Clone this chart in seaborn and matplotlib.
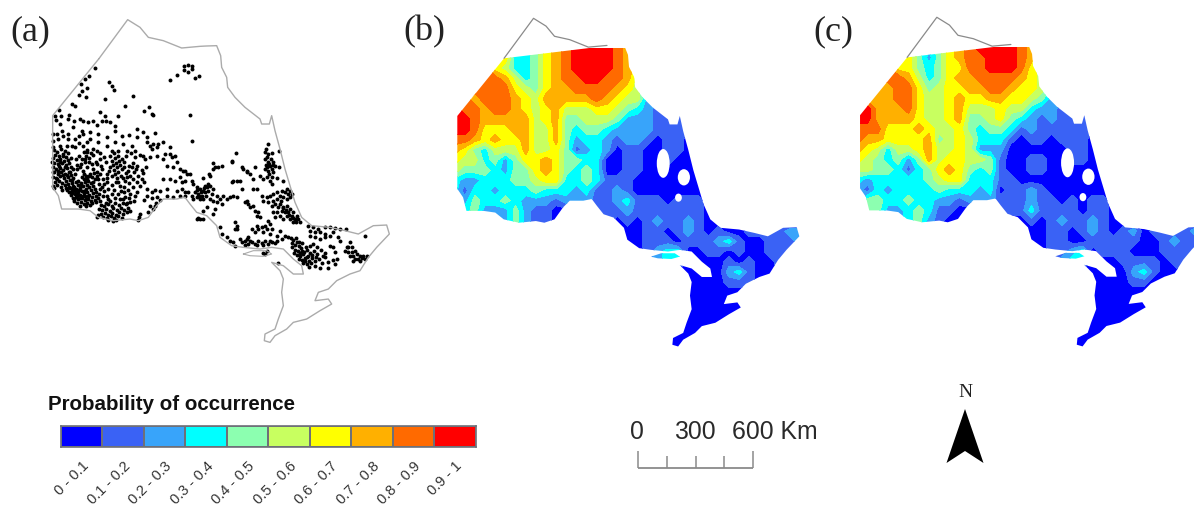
import numpy as np
import matplotlib.pyplot as plt
from matplotlib.patches import Ellipse, PathPatch, Polygon
from matplotlib.path import Path
import seaborn as sns

sns.set_theme(style="white")

FIG_W, FIG_H = 1194, 506

# province outline, map units. first stretch (up to NORTH_END) has no model surface
outline_x = [296, 383, 420, 445, 490, 545, 600, 619, 650, 662, 665, 680, 683, 705, 735, 780, 785, 808, 815, 825, 840, 855, 870, 885, 905, 935, 990, 1035, 1075, 1120, 1160, 1168, 1130, 1105, 1080, 1050, 1010, 985, 955, 945, 985, 995, 960, 920, 880, 860, 825, 810, 793, 795, 825, 835, 850, 845, 850, 840, 815, 850, 880, 910, 905, 880, 850, 815, 780, 730, 695, 660, 650, 620, 590, 570, 555, 530, 490, 470, 445, 415, 390, 340, 295, 270, 235, 185, 175, 158, 158, 296]
outline_y = [180, 62, 85, 115, 125, 147, 142, 141, 140, 170, 205, 235, 265, 295, 325, 360, 375, 375, 350, 395, 450, 510, 560, 610, 655, 680, 685, 695, 705, 680, 678, 705, 745, 775, 815, 825, 845, 870, 880, 905, 900, 915, 935, 960, 970, 990, 1010, 1030, 1025, 1005, 990, 960, 920, 880, 840, 815, 790, 800, 825, 825, 800, 780, 750, 745, 750, 745, 740, 715, 680, 650, 640, 615, 595, 600, 600, 620, 655, 665, 660, 665, 655, 635, 630, 630, 590, 565, 350, 180]
NORTH_END = 7

island_x = [730, 760, 800, 815, 790, 750]
island_y = [765, 755, 755, 765, 772, 770]

# no data lakes
lake_x = [766, 827, 811]
lake_y = [490, 531, 591]
lake_w = [38, 36, 20]
lake_h = [85, 48, 24]

# occurrence records, map units
sites_north = [(285,208),(268,232),(255,240),(243,255),(262,268),(245,275),(238,288),(258,295),(327,250),(335,262),(342,272),(316,300),(398,292),(376,322),(432,335),(447,324),(455,345),(460,349),(215,315),(225,320),(176,332),(208,348),(165,350),(183,350),(168,362),(205,360),(222,365),(240,360),(250,365),(265,368),(280,365),(300,340),(315,350),(318,365),(305,365),(290,378),(330,368),(345,380),(355,350),(180,375),(220,385),(245,395),(270,400),(510,242),(530,227),(553,200),(565,197),(575,200),(553,212),(565,218),(575,210),(585,237),(598,232),(571,349),(577,426)]
sites_band = [(160,405),(185,395),(175,420),(160,425),(205,420),(225,420),(250,405),(270,420),(295,405),(320,415),(345,395),(365,410),(388,408),(410,390),(430,400),(410,415),(440,415),(465,403),(395,440),(370,435),(345,430),(320,440),(295,430),(280,450),(250,440),(225,445),(200,440),(180,440),(160,445),(440,430),(450,440),(460,435),(470,445),(455,450),(475,435),(490,430),(510,445),(495,465),(510,465),(525,470),(470,470),(450,475),(430,470),(405,455),(380,455),(355,455),(335,455)]
sites_far_west = [(162,452),(171,458),(183,449),(194,456),(205,463),(166,467),(177,471),(188,465),(199,474),(160,478),(170,483),(181,480),(192,486),(203,482),(212,477),(163,492),(174,496),(186,493),(197,499),(208,491),(158,505),(168,509),(179,506),(190,512),(201,508),(212,503),(163,520),(173,524),(184,518),(195,525),(206,520),(160,533),(169,537),(181,531),(192,538),(203,534),(214,529),(165,548),(176,545),(187,551),(198,546),(209,542),(220,538),(160,560),(172,557),(183,563),(194,559),(205,554),(216,551),(163,568),(186,572),(197,567),(208,564),(219,560),(228,548),(225,525),(218,510),(232,497),(175,515),(155,490),(158,520),(188,528),(178,500),(196,505),(170,540),(200,528),(215,544),(180,490),(210,518),(190,470)]
sites_dryden = [(202,572),(211,568),(222,563),(233,557),(244,552),(255,548),(206,580),(217,576),(228,571),(239,566),(250,561),(261,557),(272,552),(213,589),(224,585),(235,580),(246,575),(257,570),(268,565),(279,560),(218,597),(229,593),(240,588),(251,583),(262,578),(273,574),(284,569),(223,606),(234,601),(245,597),(256,592),(267,587),(278,582),(289,578),(232,612),(243,608),(254,604),(265,599),(276,595),(287,590),(298,585),(240,620),(251,616),(262,611),(273,607),(284,602),(295,597),(258,622),(270,618),(230,585),(222,600),(215,582),(237,574),(248,592),(259,600),(226,577),(242,558),(253,540),(264,546),(275,535),(235,545),(245,535),(258,530),(270,525),(285,540),(296,555),(290,530),(305,565),(312,575),(300,605),(310,590),(318,612),(325,600),(240,598),(252,575),(264,590),(232,592),(275,612),(288,610),(220,570)]
sites_shore = [(302,618),(313,622),(324,615),(335,620),(346,612),(357,618),(368,611),(379,616),(390,610),(296,630),(307,634),(318,629),(329,635),(340,628),(351,633),(362,627),(373,632),(384,626),(303,645),(314,641),(325,647),(336,642),(347,648),(358,640),(369,645),(380,640),(391,636),(292,654),(310,654),(321,658),(332,652),(343,657),(354,652),(365,656),(325,664),(338,665),(348,662),(295,648),(330,605),(345,598),(360,600),(375,595),(388,598),(320,592),(335,585),(355,585),(372,580),(390,585),(405,590),(418,655),(415,662),(420,645)]
sites_inland = [(252,458),(262,452),(272,463),(258,470),(268,477),(280,468),(290,455),(300,462),(312,475),(245,480),(255,490),(238,470),(228,480),(242,495),(232,510),(250,515),(262,505),(275,495),(288,488),(300,480),(318,490),(330,470),(342,462),(355,472),(366,480),(378,470),(392,462),(405,475),(420,468),(436,480),(335,485),(348,492),(360,498),(372,490),(386,502),(398,492),(412,500),(425,512),(438,505),(330,505),(342,512),(354,518),(366,510),(378,522),(390,530),(402,520),(415,530),(428,522),(322,525),(336,530),(350,538),(362,530),(375,545),(388,552),(400,540),(412,548),(425,540),(305,510),(292,520),(280,510),(268,530),(310,540),(322,550),(335,558),(348,550),(360,562),(373,565),(385,572),(398,565),(410,578),(420,560),(432,550),(440,570),(455,580),(465,572),(470,595),(480,603),(290,495),(302,500),(278,548),(262,540),(295,540),(440,590),(455,598),(468,612),(450,620),(432,602),(382,612),(370,600),(402,605),(345,478),(352,505),(358,485),(372,505),(384,515),(340,498),(326,515),(345,525),(368,538),(355,548),(380,535),(395,505),(408,510),(322,538),(300,525),(312,555),(300,570),(325,570),(342,572),(362,575),(262,460),(256,480),(268,488),(240,505),(252,525),(283,522),(215,440),(238,432),(262,430),(205,405),(172,405),(190,410),(238,410)]
sites_mid = [(515,475),(530,490),(490,480),(500,500),(520,505),(540,510),(555,515),(570,525),(490,540),(510,540),(525,545),(540,535),(545,550),(555,545),(480,575),(500,570),(530,575),(545,570),(555,580),(500,590),(520,595),(540,590),(465,620),(460,630),(445,640),(548,515),(562,525),(575,545),(610,538),(628,525),(630,532),(640,510),(645,505),(655,505),(665,502),(640,493),(697,485),(707,463),(695,490),(580,555),(590,565),(600,570),(610,575),(620,565),(630,560),(640,570),(585,580),(595,585),(605,590),(615,580),(625,575),(635,585),(580,600),(590,595),(600,600),(610,600),(625,555),(615,560),(650,590),(660,600),(650,610),(665,615),(680,600),(690,595),(670,590),(640,605),(630,600),(620,625),(610,635),(640,645),(645,630),(590,660),(600,660),(595,658),(610,660),(575,590),(565,580),(555,590),(700,590),(710,595),(700,545),(710,545),(720,545),(695,548),(725,505),(730,510),(742,515),(750,525),(740,520),(765,505),(760,540),(760,570),(770,570),(740,605),(745,615),(735,610),(750,625),(760,620),(765,635),(770,650),(775,640),(780,655),(725,570),(592,572),(603,580),(612,568),(598,592),(618,590)]
sites_timmins = [(805,435),(797,450),(795,460),(805,465),(800,475),(815,462),(838,457),(795,480),(803,490),(812,480),(820,490),(810,500),(800,505),(815,510),(825,500),(795,510),(805,515),(820,520),(838,505),(780,530),(790,540),(800,535),(810,545),(815,535),(830,538),(850,545),(815,555),(808,495),(798,498),(818,498),(806,525)]
sites_east = [(860,570),(870,575),(855,580),(865,585),(875,585),(845,575),(830,580),(820,585),(840,590),(850,595),(870,595),(810,590),(800,595),(785,590),(790,605),(805,610),(820,605),(830,600),(815,620),(825,615),(840,615),(835,625),(850,625),(860,620),(870,630),(855,640),(865,640),(880,640),(845,635),(875,650),(890,650),(885,660),(895,660),(900,670),(870,660),(860,650),(880,670),(850,660),(840,650),(830,640),(820,640),(825,655),(705,670),(710,680),(705,690),(712,690),(805,665),(810,675),(795,680),(800,690),(785,685),(815,690),(775,690),(770,680),(755,690),(765,700),(790,700),(810,705),(830,710),(840,695),(855,710),(865,715),(845,720),(872,718),(660,685),(665,705),(680,715),(690,725),(700,730),(705,740),(720,720),(745,715),(725,730),(735,725),(745,735),(755,728),(765,735),(775,727),(785,733),(795,727),(805,735),(815,728),(825,733),(735,738),(750,725),(770,738),(790,738),(810,725),(830,725),(790,762),(795,765),(800,755),(740,720),(835,793),(848,628),(858,632),(868,648),(878,658),(888,670),(842,605),(862,600)]
sites_south = [(878,722),(889,718),(898,728),(876,733),(886,738),(896,741),(907,733),(917,745),(875,745),(884,752),(893,757),(903,748),(912,760),(922,752),(931,742),(940,735),(950,745),(882,762),(890,768),(900,772),(910,766),(920,773),(930,762),(941,756),(952,765),(963,752),(896,780),(906,783),(916,778),(926,786),(936,778),(947,774),(958,780),(968,770),(976,762),(910,792),(922,796),(933,791),(944,786),(928,804),(945,800),(960,808),(985,808),(985,790),(1005,795),(1000,782),(965,792),(975,775),(890,730),(905,755),(925,770),(915,785),(935,768),(900,762)]
sites_southeast = [(925,680),(940,685),(955,690),(975,685),(990,685),(1005,687),(1020,690),(1038,690),(930,695),(945,700),(960,700),(975,705),(990,710),(930,710),(945,715),(960,720),(975,715),(1000,700),(1015,715),(1020,725),(1000,745),(1005,760),(1012,780),(990,740),(1040,745),(1095,710),(1050,730),(1045,745),(1055,745),(1035,755),(1045,760),(1055,760),(1065,755),(1050,770),(1060,770),(1070,765),(1080,770),(1090,770),(1100,770),(1065,780),(1075,780),(1085,778),(1095,780),(1080,785),(1060,785)]

# probability class (first digit of the range) read on a regular map grid,
# one string per row, rows short of the grid width continue as class 0
grid_x = np.arange(150, 1201, 30)
grid_y = np.arange(150, 1051, 30)

class_rows_b = [
    "77777" + "5334" + "678" + "9999" + "876" + "3" + "22221111",
    "77777" + "6334" + "678" + "9999" + "876" + "3" + "22221111",
    "8888" + "65334678" + "9999" + "8763" + "222211",
    "88888" + "753" + "46788" + "998875" + "3" + "222211",
    "888888" + "654677" + "8888" + "7653" + "2" + "2211",
    "887888" + "7657" + "7777" + "8765522111",
    "988788" + "76567" + "555" + "665432111",
    "998777" + "77567" + "445" + "554222111",
    "998666" + "77557" + "434" + "4322221111",
    "887676" + "67557" + "423" + "3212210110",
    "764355" + "57556" + "412" + "3201100110",
    "655342" + "46676" + "443" + "3001100100",
    "544432" + "44676" + "434" + "300110000",
    "322333" + "44566" + "334" + "3111000",
    "313323" + "33433" + "323" + "112100000",
    "324334" + "32221" + "222" + "11231110111",
    "334222" + "42110" + "000" + "111211111110",
    "223322" + "42110" + "000" + "0101012112100",
    "223322" + "42110" + "000" + "00000" + "110121" + "010011" + "11222",
    "0" * 19 + "1110111" + "231" + "00" + "111" + "22",
    "0" * 19 + "1233" + "00" + "11" + "01" + "00" + "1111" + "1",
    "0" * 19 + "1233" + "00" + "00" + "1" + "0" + "1" + "00" + "11" + "1",
    "0" * 27 + "231001",
    "0" * 27 + "111",
    "", "", "", "", "", "", "",
]
class_rows_c = [
    "77777" + "54346" + "78" + "9999" + "8763" + "22221111",
    "77777" + "64246" + "788" + "999" + "8763" + "22221111",
    "8888" + "66434" + "6688" + "999" + "8653" + "222211",
    "88888" + "75346" + "77" + "8888" + "7653" + "222211",
    "887788" + "64566" + "77887" + "6653" + "22211",
    "877788" + "65567" + "66776" + "6542" + "2111",
    "897778" + "65567" + "555" + "655322111",
    "997777" + "65567" + "445" + "643212111",
    "888666" + "76556" + "434" + "4312111111",
    "877666" + "67456" + "533" + "3101101110",
    "765355" + "67556" + "522" + "2000000110",
    "654342" + "47566" + "554" + "1001100110",
    "554431" + "34676" + "434" + "100110000",
    "323333" + "34566" + "333" + "1100000",
    "213233" + "33433" + "323" + "011210000",
    "244334" + "33221" + "222" + "11121101011",
    "344223" + "43110" + "000" + "111311110110",
    "332223" + "42100" + "000" + "0001012112100",
    "332223" + "42100" + "000" + "00000" + "110121" + "0120" + "1111" + "22",
    "0" * 19 + "1100" + "11111" + "00" + "1211",
    "0" * 19 + "1123" + "0" + "111" + "000" + "1111",
    "0" * 19 + "1233" + "000" + "1111" + "0" + "11" + "1",
    "0" * 27 + "231001",
    "0" * 27 + "11",
    "", "", "", "", "", "", "",
]

class_labels = ["0 - 0.1", "0.1 - 0.2", "0.2 - 0.3", "0.3 - 0.4", "0.4 - 0.5",
                "0.5 - 0.6", "0.6 - 0.7", "0.7 - 0.8", "0.8 - 0.9", "0.9 - 1"]
class_values = [0.05, 0.15, 0.25, 0.35, 0.45, 0.55, 0.65, 0.75, 0.85, 0.95]
class_colors = ["#0000ff", "#3a62f5", "#38a4fa", "#00ffff", "#8cffb0",
                "#c8ff60", "#ffff00", "#ffb000", "#ff6a00", "#ff0000"]
level_edges = [0, .1, .2, .3, .4, .5, .6, .7, .8, .9, 1]

scale_ticks_km = [0, 150, 300, 450, 600]


def px_axes(fig, left, top, width, height):
    # axes placed by picture pixels, top left origin
    return fig.add_axes([left / FIG_W, 1 - (top + height) / FIG_H, width / FIG_W, height / FIG_H])


def map_axes(fig, left, top, width, height):
    ax = px_axes(fig, left, top, width, height)
    ax.set_xlim(0, 1200)
    ax.set_ylim(1100, 0)
    ax.set_axis_off()
    ax.patch.set_alpha(0)
    return ax


def rows_to_prob(rows):
    return np.array([[class_values[int(d)] for d in r.ljust(len(grid_x), "0")[:len(grid_x)]] for r in rows])


def draw_surface(ax, rows):
    ax.plot(outline_x[:NORTH_END], outline_y[:NORTH_END], color="#8a8a8a", lw=0.9)
    cs = ax.contourf(grid_x, grid_y, rows_to_prob(rows), levels=level_edges, colors=class_colors)
    main = list(zip(outline_x[NORTH_END:], outline_y[NORTH_END:]))
    isle = list(zip(island_x, island_y)) + [(island_x[0], island_y[0])]
    verts = main + isle
    codes = ([Path.MOVETO] + [Path.LINETO] * (len(main) - 1)
             + [Path.MOVETO] + [Path.LINETO] * (len(isle) - 1))
    clip = PathPatch(Path(verts, codes), transform=ax.transData, fc="none", ec="none")
    ax.add_patch(clip)
    cs.set_clip_path(clip)
    for x, y, w, h in zip(lake_x, lake_y, lake_w, lake_h):
        ax.add_patch(Ellipse((x, y), w, h, fc="white", ec="none", zorder=5))


site_pairs = (sites_north + sites_band + sites_far_west + sites_dryden + sites_shore + sites_inland
              + sites_mid + sites_timmins + sites_east + sites_south + sites_southeast)
site_x = [p[0] for p in site_pairs]
site_y = [p[1] for p in site_pairs]

fig = plt.figure(figsize=(FIG_W / 100, FIG_H / 100), dpi=100)

# (a) records
ax_a = map_axes(fig, 0, 0, 400, 366.7)
ax_a.plot(outline_x, outline_y, color="#ababab", lw=1)
ax_a.plot(island_x + island_x[:1], island_y + island_y[:1], color="#ababab", lw=0.8)
sns.scatterplot(x=site_x, y=site_y, color="black", s=8, linewidth=0, ax=ax_a)
ax_a.set_axis_off()

# (b), (c) predicted probability
ax_b = map_axes(fig, 403.8, -1.7, 406.4, 372.9)
draw_surface(ax_b, class_rows_b)
ax_c = map_axes(fig, 806.1, -2.8, 409.6, 374)
draw_surface(ax_c, class_rows_c)

for label, x in zip(["(a)", "(b)", "(c)"], [10, 403, 813]):
    fig.text(x / FIG_W, 1 - 32 / FIG_H, label, family="Liberation Serif", fontsize=26,
             color="#222222", va="center", ha="left")

# legend strip
ax_leg = px_axes(fig, 61, 427, 414.5, 21)
sns.heatmap([class_values], ax=ax_leg, cmap=class_colors, vmin=0, vmax=1, cbar=False,
            linewidths=1.2, linecolor="#6e7078", yticklabels=False, xticklabels=class_labels)
ax_leg.set_xticklabels(class_labels, rotation=45, ha="right", rotation_mode="anchor",
                       family="Liberation Sans", fontsize=10.5, color="#333333")
ax_leg.tick_params(axis="x", length=0, pad=8)
for spine in ax_leg.spines.values():
    spine.set_visible(True)
    spine.set_color("#6e7078")
    spine.set_linewidth(1.2)
fig.text(48 / FIG_W, 1 - 404 / FIG_H, "Probability of occurrence", family="Liberation Sans",
         fontweight="bold", fontsize=14.8, color="#111111", va="center", ha="left")

# scale bar
ax_bar = px_axes(fig, 638, 452, 115, 17)
ax_bar.set_xlim(0, 600)
ax_bar.set_ylim(0, 1)
ax_bar.set_axis_off()
ax_bar.hlines(0, 0, 600, color="#8a8a8a", lw=1.3, clip_on=False)
ax_bar.vlines(scale_ticks_km, 0, [1, 0.7, 0.7, 0.7, 1], color="#8a8a8a", lw=1.1, clip_on=False)
for text, x, ha in [("0", 637, "center"), ("300", 695, "center"), ("600 Km", 732, "left")]:
    fig.text(x / FIG_W, 1 - 432 / FIG_H, text, family="Liberation Sans", fontsize=17.8,
             color="#2a2a2a", ha=ha, va="center")

# north arrow
ax_n = px_axes(fig, 940, 405, 50, 65)
ax_n.set_xlim(-25, 25)
ax_n.set_ylim(65, 0)
ax_n.set_axis_off()
ax_n.add_patch(Polygon([(0, 5), (-18.5, 59), (0, 47), (18.5, 59)], fc="black", ec="none"))
fig.text(965 / FIG_W, 1 - 393 / FIG_H, "N", family="Liberation Serif", fontsize=14,
         color="#222222", ha="center", va="center")

plt.savefig("out.png", dpi=100)
